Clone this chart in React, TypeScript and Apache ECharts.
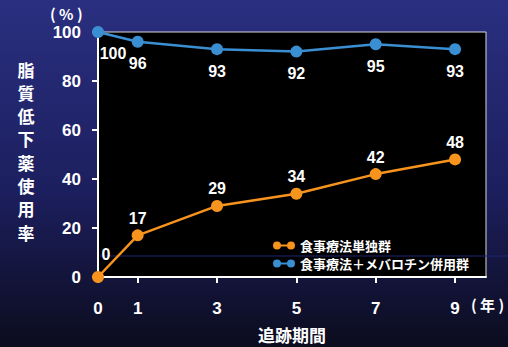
import React, { useEffect, useRef } from "react";
import * as echarts from "echarts";

const years = [0, 1, 3, 5, 7, 9];
const dietOnly = [0, 17, 29, 34, 42, 48];
const dietMeva = [100, 96, 93, 92, 95, 93];
const yTicks = [0, 20, 40, 60, 80, 100];
const seriesNames = ["食事療法単独群", "食事療法＋メバロチン併用群"];
const yTitle = "脂質低下薬使用率";
const xTitle = "追跡期間";

const ORANGE = "#f7941d";
const BLUE = "#3a8ed2";
const FONT = "'Liberation Sans', 'Noto Sans CJK JP', sans-serif";
const CJK = "'Noto Sans CJK JP', sans-serif";

const legendIcon =
  "path://M0,4A4,4,0,1,1,8,4A4,4,0,1,1,0,4Z M14,4A4,4,0,1,1,22,4A4,4,0,1,1,14,4Z M4,3L18,3L18,5L4,5Z";

export default function App() {
  const ref = useRef<HTMLDivElement>(null);
  useEffect(() => {
    if (!ref.current) return;
    const chart = echarts.init(ref.current, null, { renderer: "svg" });
    const labelStyle = {
      color: "#fff",
      fontWeight: "bold" as const,
      fontSize: 16,
      fontFamily: FONT,
    };
    const orangeData = years.map((x, i) =>
      i === 0
        ? { value: [x, dietOnly[i]], label: { position: "top", offset: [8, -6] } }
        : { value: [x, dietOnly[i]] }
    );
    const blueData = years.map((x, i) =>
      i === 0
        ? { value: [x, dietMeva[i]], label: { position: "bottom", offset: [15, -1] } }
        : { value: [x, dietMeva[i]] }
    );
    chart.setOption({
      animation: false,
      backgroundColor: new echarts.graphic.LinearGradient(0, 0, 0, 1, [
        { offset: 0, color: "#2a2f80" },
        { offset: 0.55, color: "#1c1f5e" },
        { offset: 1, color: "#0c0c1e" },
      ]),
      grid: {
        left: 98,
        right: 22,
        top: 32,
        bottom: 70,
        show: true,
        backgroundColor: "#000",
        borderColor: "#d8d8d8",
        borderWidth: 1,
      },
      xAxis: {
        type: "value",
        min: 0,
        max: 9.78,
        z: 0,
        splitLine: { show: false },
        axisLine: { show: true, lineStyle: { color: "#fff", width: 2 } },
        axisTick: {
          show: true,
          length: 6,
          lineStyle: { color: "#fff", width: 2 },
          customValues: years,
        },
        axisLabel: {
          customValues: years,
          color: "#fff",
          fontWeight: "bold",
          fontSize: 17,
          fontFamily: FONT,
          margin: 23,
        },
      },
      yAxis: {
        type: "value",
        min: 0,
        max: 100,
        interval: 20,
        z: 0,
        splitLine: { show: false },
        axisLine: { show: true, lineStyle: { color: "#fff", width: 2 } },
        axisTick: { show: true, length: 6, lineStyle: { color: "#fff", width: 2 } },
        axisLabel: {
          customValues: yTicks,
          color: "#fff",
          fontWeight: "bold",
          fontSize: 17,
          fontFamily: FONT,
          margin: 17,
        },
      },
      legend: {
        orient: "vertical",
        left: 268,
        top: 234,
        itemGap: 5,
        itemWidth: 22,
        itemHeight: 8,
        data: seriesNames.map((n) => ({ name: n, icon: legendIcon })),
        textStyle: {
          color: "#fff",
          fontWeight: "bold",
          fontSize: 13,
          lineHeight: 13,
          fontFamily: CJK,
        },
      },
      graphic: [
        {
          type: "line",
          z: 1,
          shape: { x1: 100, y1: 256, x2: 508, y2: 256 },
          style: { stroke: "#1e2472", lineWidth: 1 },
          silent: true,
        },
        {
          type: "text",
          left: 50,
          top: 6,
          style: {
            text: "( % )",
            fill: "#fff",
            font: `bold 15px ${CJK}`,
          },
        },
        {
          type: "text",
          left: 471,
          top: 297,
          style: {
            text: "( 年 )",
            fill: "#fff",
            font: `bold 15px ${CJK}`,
          },
        },
        {
          type: "text",
          left: 258,
          top: 326,
          style: {
            text: xTitle,
            fill: "#fff",
            font: `bold 17px ${CJK}`,
          },
        },
        ...yTitle.split("").map((ch, i) => ({
          type: "text",
          x: 26,
          y: 69 + i * 23.3,
          style: {
            text: ch,
            fill: "#fff",
            font: `bold 17px ${CJK}`,
            lineHeight: 20,
            align: "center",
            verticalAlign: "middle",
          },
        })),
      ],
      series: [
        {
          name: seriesNames[0],
          type: "line",
          data: orangeData,
          color: ORANGE,
          symbol: "circle",
          symbolSize: 12,
          showSymbol: true,
          showAllSymbol: true,
          lineStyle: { width: 2.5, color: ORANGE },
          itemStyle: { color: ORANGE },
          label: {
            show: true,
            position: "top",
            distance: 3,
            ...labelStyle,
          },
          z: 5,
          clip: false,
        },
        {
          name: seriesNames[1],
          type: "line",
          data: blueData,
          color: BLUE,
          symbol: "circle",
          symbolSize: 12,
          showSymbol: true,
          showAllSymbol: true,
          lineStyle: { width: 2.5, color: BLUE },
          itemStyle: { color: BLUE },
          label: {
            show: true,
            position: "bottom",
            distance: 8,
            ...labelStyle,
          },
          z: 5,
          clip: false,
        },
      ],
    });
    return () => chart.dispose();
  }, []);
  return (
    <div
      ref={ref}
      style={{ position: "fixed", left: 0, top: 0, width: 508, height: 347 }}
    />
  );
}
